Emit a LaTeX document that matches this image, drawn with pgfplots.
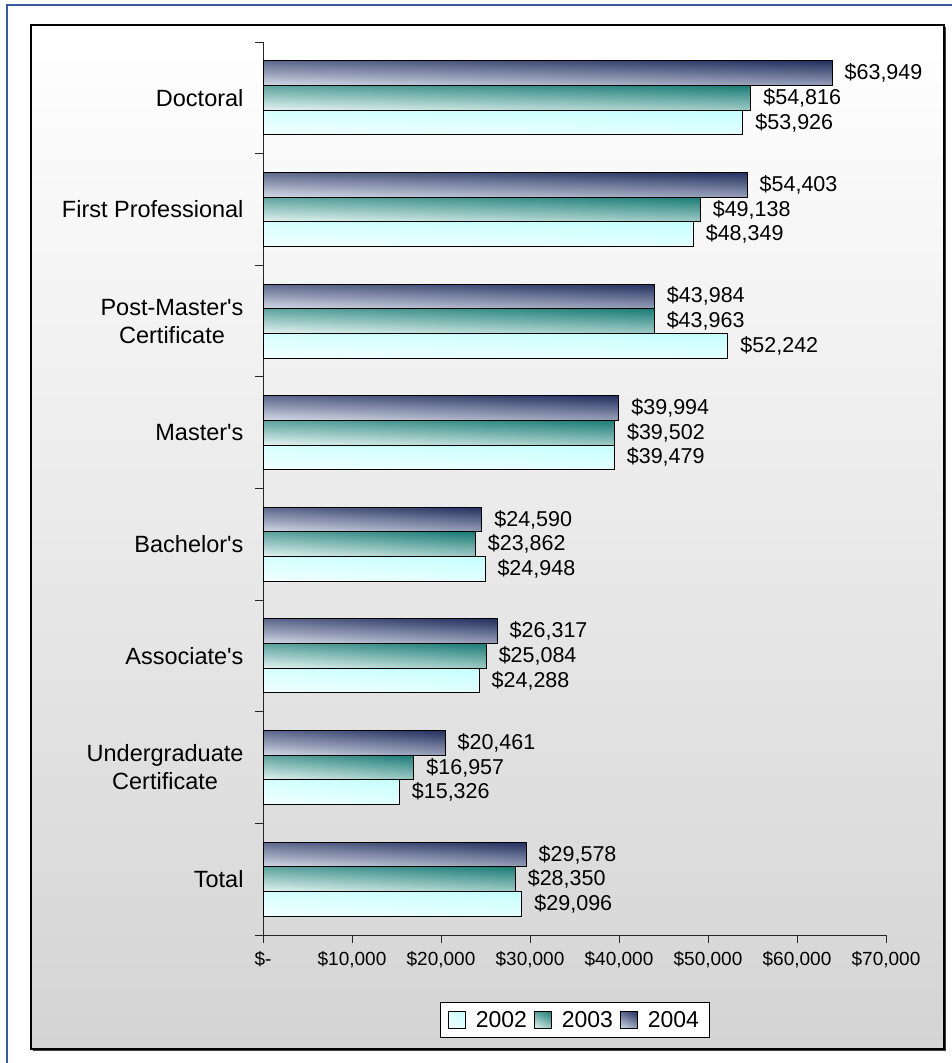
\documentclass[border=0pt]{standalone}
\usepackage{fontspec}
\setmainfont{Liberation Sans}[Ligatures=TeXOff]
\usepackage{pgfplots}
\usepackage{pgfplotstable}
\pgfplotsset{compat=1.18}

\definecolor{bgbot}{HTML}{D4D4D4}
\definecolor{frameblue}{HTML}{3A5AA0}

% diagonal bar gradients: light at lower left, dark at upper right
\pgfdeclarefunctionalshading{navybar}{\pgfpointorigin}{\pgfpoint{100bp}{100bp}}{}{
  2 mul add 75 sub 150 div
  dup -0.683 mul 0.824 add exch
  dup -0.663 mul 0.851 add exch
  -0.529 mul 0.902 add
}
\pgfdeclarefunctionalshading{tealbar}{\pgfpointorigin}{\pgfpoint{100bp}{100bp}}{}{
  2 mul add 75 sub 150 div
  dup -0.792 mul 0.894 add exch
  dup -0.467 mul 0.953 add exch
  -0.478 mul 0.941 add
}
\pgfdeclarefunctionalshading{cyanbar}{\pgfpointorigin}{\pgfpoint{100bp}{100bp}}{}{
  2 mul add 75 sub 150 div
  dup -0.173 mul 0.949 add exch
  dup 0 mul 1 add exch
  0 mul 1 add
}

% 0 = Total ... 7 = Doctoral
\pgfplotstableread{
y v2002 v2003 v2004
0 29096 28350 29578
1 15326 16957 20461
2 24288 25084 26317
3 24948 23862 24590
4 39479 39502 39994
5 52242 43963 43984
6 48349 49138 54403
7 53926 54816 63949
}\salary

\begin{document}
\begin{tikzpicture}[x=1pt,y=1pt]
\useasboundingbox (0,0) rectangle (952,1063);
% chart area
\shade[top color=white, bottom color=bgbot] (31,14) rectangle (944,1038);
\draw[line width=2pt, black!75] (33,13) -- (945,13) -- (945,1036);
\draw[line width=1.2pt] (31,14) rectangle (944,1038);
\draw[frameblue, line width=1.2pt] (7,0) -- (7,1058) -- (952,1058);

\begin{axis}[
  at={(263pt,128pt)}, anchor=south west,
  scale only axis, width=623pt, height=893pt,
  xbar, bar width=24.7pt,
  xmin=0, xmax=70000, ymin=-0.5, ymax=7.5,
  clip=false,
  axis lines=left, axis line style={-, line width=0.9pt, black!85},
  tick align=outside, major tick length=8pt, minor tick length=8pt,
  scaled x ticks=false,
  xtick={0,10000,...,70000},
  xticklabels={{\$-},{\$10,000},{\$20,000},{\$30,000},{\$40,000},{\$50,000},{\$60,000},{\$70,000}},
  xticklabel style={font=\fontsize{19}{22}\selectfont, yshift=-5pt},
  x tick style={black!85, line width=0.9pt},
  ytick={0,...,7},
  yticklabels={Total,{Undergraduate\\Certificate},Associate's,Bachelor's,Master's,{Post-Master's\\Certificate},First Professional,Doctoral},
  yticklabel style={font=\fontsize{23.5}{28}\selectfont, align=center, xshift=-8pt},
  major y tick style={draw=none},
  minor ytick={-0.5,0.5,...,7.5},
  minor y tick style={black!85, line width=0.9pt},
  point meta=x,
  nodes near coords={\$\pgfmathprintnumber{\pgfplotspointmeta}},
  every node near coord/.append style={font=\fontsize{21.5}{26}\selectfont, anchor=west, inner sep=0pt, xshift=12pt},
  /pgf/number format/.cd, fixed, precision=0, 1000 sep={,}, assume math mode=true,
  /pgfplots/.cd,
  legend style={at={(axis description cs:0.5,-0.0952)}, anchor=center,
    legend columns=-1, font=\fontsize{23}{27}\selectfont,
    draw=black, line width=0.8pt, fill=white, inner xsep=8pt, inner ysep=7pt},
  legend image code/.code={\draw[#1, line width=0.8pt] (0pt,-8.5pt) rectangle (17pt,8.5pt);},
  /tikz/every even column/.append style={column sep=5pt},
  /tikz/every odd column/.append style={column sep=8pt},
  bar02/.style={draw=black, line width=1pt, shade, shading=cyanbar},
  bar03/.style={draw=black, line width=1pt, shade, shading=tealbar},
  bar04/.style={draw=black, line width=1pt, shade, shading=navybar},
]
% one plot per bar, so that each bar gets its own gradient
\pgfplotsinvokeforeach{0,...,7}{
  \addplot[bar02, bar shift=-24.7pt, forget plot, restrict y to domain=#1:#1]
    table[x=v2002, y=y] {\salary};
  \addplot[bar03, bar shift=0pt, forget plot, restrict y to domain=#1:#1]
    table[x=v2003, y=y] {\salary};
  \addplot[bar04, bar shift=24.7pt, forget plot, restrict y to domain=#1:#1]
    table[x=v2004, y=y] {\salary};
}
\addlegendimage{bar02}\addlegendentry{2002}
\addlegendimage{bar03}\addlegendentry{2003}
\addlegendimage{bar04}\addlegendentry{2004}
\end{axis}
\end{tikzpicture}
\end{document}
